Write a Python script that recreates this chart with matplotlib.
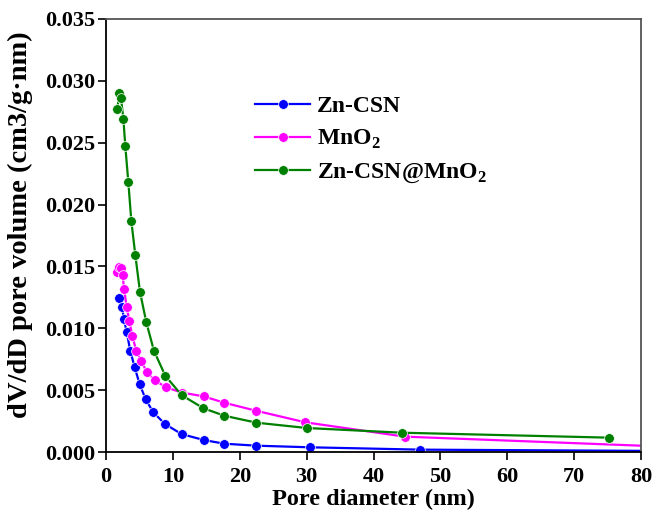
import matplotlib
matplotlib.use("Agg")
import matplotlib.pyplot as plt

plt.rcParams['font.family'] = ['Liberation Serif', 'DejaVu Serif']
plt.rcParams['mathtext.fontset'] = 'custom'
plt.rcParams['mathtext.rm'] = 'Liberation Serif:bold'
plt.rcParams['mathtext.bf'] = 'Liberation Serif:bold'

# Zn-CSN
zn_x = [1.99, 2.39, 2.69, 3.09, 3.63, 4.29, 5.04, 5.93, 7.07, 8.82, 11.3, 14.6, 17.7, 22.5, 30.5, 47.0, 95.0]
zn_y = [0.01246, 0.01174, 0.01072, 0.00972, 0.00818, 0.00684, 0.00547, 0.00426, 0.00321, 0.00226,
        0.00145, 0.00097, 0.00067, 0.00051, 0.00038, 0.00019, 0.00005]

# MnO2
mn_x = [1.69, 1.99, 2.2, 2.49, 2.69, 3.09, 3.49, 3.94, 4.53, 5.23, 6.13, 7.32, 9.02, 11.38, 14.58, 17.7, 22.4, 29.8, 44.7, 95.0]
mn_y = [0.01456, 0.01497, 0.01490, 0.01430, 0.01320, 0.01174, 0.01058, 0.00937, 0.00818, 0.00738,
        0.00644, 0.00579, 0.00522, 0.00480, 0.00450, 0.00398, 0.00334, 0.00240, 0.00124, 0.00020]

# Zn-CSN@MnO2
zm_x = [1.69, 1.99, 2.24, 2.6, 2.89, 3.34, 3.79, 4.38, 5.08, 6.03, 7.17, 8.87, 11.3, 14.55, 17.7, 22.5, 30.0, 44.2, 75.2]
zm_y = [0.0277, 0.0290, 0.0286, 0.0269, 0.0247, 0.0218, 0.01866, 0.01594, 0.01295, 0.01048,
        0.00818, 0.00616, 0.00460, 0.00354, 0.00293, 0.00237, 0.00194, 0.00156, 0.00116]

labels = ['Zn-CSN', r'MnO$_\mathbf{2}$', r'Zn-CSN@MnO$_\mathbf{2}$']
colors = ['#0000FF', '#FF00FF', '#008000']
yticks = [0.0, 0.005, 0.010, 0.015, 0.020, 0.025, 0.030, 0.035]
xticks = [0, 10, 20, 30, 40, 50, 60, 70, 80]

fig = plt.figure(figsize=(6.55, 5.16), dpi=100)
ax = fig.add_axes([106/655, 1-452/516, (641-106)/655, (452-19)/516])

for xs, ys, lab, c in zip([zn_x, mn_x, zm_x], [zn_y, mn_y, zm_y], labels, colors):
    ax.plot(xs, ys, '-', color=c, lw=1.6, marker='o', ms=7, mfc=c,
            mec='white', mew=0.5, label=lab)

ax.set_xlim(0, 80)
ax.set_ylim(0, 0.035)
ax.set_xticks(xticks)
ax.set_yticks(yticks)
ax.set_yticklabels([f'{v:.3f}' for v in yticks])

ax.tick_params(axis='both', direction='out', length=6, width=1.2, labelsize=16,
               top=False, right=False)
ax.tick_params(axis='x', pad=5)
ax.tick_params(axis='y', pad=1.5)
for lab in ax.get_xticklabels() + ax.get_yticklabels():
    lab.set_fontweight('bold')

ax.spines['left'].set_linewidth(1.3)
ax.spines['bottom'].set_linewidth(1.3)
ax.spines['top'].set_color('#555555')
ax.spines['right'].set_color('#555555')
ax.spines['top'].set_linewidth(1.3)
ax.spines['right'].set_linewidth(1.3)

ax.set_xlabel('Pore diameter (nm)', fontsize=17.5, fontweight='bold', labelpad=1)
ax.set_ylabel('dV/dD pore volume (cm3/g\u00b7nm)', fontsize=20.5, fontweight='bold')
ax.yaxis.set_label_coords(-0.136, 0.524)

leg = ax.legend(loc='upper left', bbox_to_anchor=(243/655, 1-84/516),
                bbox_transform=fig.transFigure, frameon=False,
                prop={'family': 'Liberation Serif', 'weight': 'bold', 'size': 17},
                handlelength=2.35, handletextpad=0.3, labelspacing=0.45,
                borderpad=0.0, markerscale=1.0)

fig.savefig('out.png', dpi=100)
